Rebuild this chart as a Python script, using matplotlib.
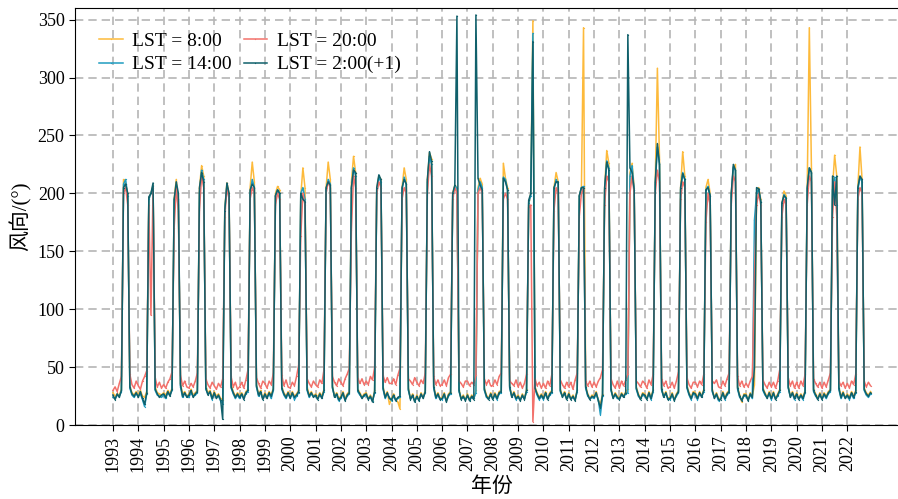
import numpy as np
import matplotlib
matplotlib.use("Agg")
import matplotlib.pyplot as plt

plt.rcParams['font.family'] = ['Liberation Serif', 'Noto Sans CJK SC']
plt.rcParams['axes.unicode_minus'] = False

years = list(range(1993, 2023))

# 月平均风向 (°)，每行一年 1-12 月
wd_08 = [
    [28, 25, 27, 26, 31, 212, 208, 200, 34, 28, 26, 29],
    [26, 30, 25, 24, 29, 196, 200, 207, 33, 28, 27, 26],
    [28, 26, 30, 27, 32, 195, 212, 190, 36, 27, 29, 25],
    [27, 31, 26, 28, 30, 205, 224, 215, 34, 28, 30, 24],
    [29, 25, 27, 23, 22, 187, 209, 200, 35, 29, 25, 28],
    [26, 28, 24, 29, 31, 205, 227, 210, 35, 27, 30, 23],
    [28, 25, 29, 26, 32, 200, 206, 203, 33, 28, 25, 29],
    [25, 29, 25, 27, 30, 198, 222, 205, 33, 26, 29, 25],
    [27, 24, 28, 25, 31, 205, 227, 212, 34, 25, 28, 23],
    [25, 29, 23, 27, 29, 210, 232, 218, 31, 28, 24, 27],
    [28, 23, 26, 21, 30, 203, 215, 212, 33, 25, 29, 18],
    [23, 27, 22, 20, 14, 205, 222, 212, 32, 23, 27, 21],
    [26, 22, 28, 24, 30, 212, 235, 230, 34, 25, 28, 23],
    [24, 28, 21, 27, 29, 200, 207, 205, 31, 23, 26, 22],
    [27, 22, 26, 23, 30, 205, 213, 208, 32, 26, 23, 28],
    [23, 28, 24, 29, 30, 226, 213, 205, 34, 25, 29, 24],
    [26, 22, 27, 23, 31, 190, 200, 349, 33, 28, 24, 27],
    [24, 29, 23, 28, 30, 205, 218, 210, 31, 25, 29, 23],
    [28, 23, 26, 22, 31, 198, 205, 343, 34, 27, 23, 26],
    [25, 29, 22, 18, 27, 205, 237, 226, 32, 24, 28, 25],
    [23, 28, 25, 29, 31, 218, 226, 205, 33, 27, 23, 28],
    [27, 23, 29, 24, 31, 210, 308, 230, 32, 25, 29, 23],
    [24, 28, 22, 27, 30, 205, 236, 215, 34, 28, 24, 29],
    [28, 24, 29, 25, 31, 205, 212, 200, 31, 24, 28, 23],
    [23, 29, 24, 28, 30, 200, 222, 225, 33, 26, 20, 27],
    [27, 22, 28, 25, 35, 200, 205, 195, 32, 28, 24, 29],
    [24, 29, 23, 27, 31, 190, 202, 198, 34, 25, 29, 24],
    [28, 23, 27, 24, 30, 205, 343, 222, 31, 27, 23, 28],
    [23, 28, 25, 29, 31, 205, 233, 215, 33, 25, 29, 24],
    [27, 24, 29, 25, 30, 205, 240, 212, 32, 28, 26, 29],
]

wd_14 = [
    [24, 23, 26, 25, 29, 208, 212, 198, 32, 26, 24, 27],
    [25, 27, 22, 16, 27, 195, 200, 206, 30, 26, 25, 24],
    [26, 23, 28, 26, 30, 194, 205, 195, 33, 24, 27, 25],
    [24, 28, 25, 26, 28, 200, 220, 212, 31, 27, 28, 22],
    [27, 24, 25, 21, 18, 186, 207, 198, 32, 27, 23, 26],
    [23, 26, 24, 27, 29, 200, 212, 205, 33, 25, 28, 23],
    [26, 24, 27, 23, 30, 198, 203, 200, 31, 26, 23, 27],
    [24, 27, 22, 25, 28, 200, 205, 195, 30, 24, 27, 25],
    [25, 23, 26, 24, 29, 203, 212, 208, 32, 25, 26, 21],
    [23, 27, 22, 25, 27, 205, 222, 215, 29, 26, 24, 25],
    [26, 23, 24, 21, 28, 200, 214, 210, 31, 23, 27, 24],
    [21, 25, 22, 23, 24, 203, 214, 208, 30, 23, 25, 21],
    [24, 22, 26, 24, 28, 210, 232, 225, 32, 23, 26, 23],
    [22, 26, 21, 25, 27, 198, 206, 205, 29, 23, 24, 22],
    [25, 22, 24, 23, 28, 203, 210, 205, 30, 24, 23, 26],
    [23, 26, 22, 27, 28, 214, 212, 203, 32, 25, 27, 22],
    [24, 22, 25, 23, 29, 192, 198, 338, 31, 26, 22, 25],
    [22, 27, 23, 26, 28, 203, 212, 208, 29, 25, 27, 23],
    [26, 23, 24, 22, 29, 198, 205, 206, 32, 25, 23, 24],
    [23, 27, 22, 9, 25, 203, 228, 222, 30, 24, 26, 23],
    [23, 26, 25, 27, 28, 215, 224, 203, 31, 25, 23, 26],
    [25, 23, 27, 22, 29, 208, 240, 225, 30, 25, 27, 23],
    [22, 26, 22, 25, 28, 203, 218, 212, 32, 26, 22, 27],
    [26, 22, 27, 25, 29, 203, 206, 198, 29, 24, 26, 21],
    [23, 27, 22, 26, 28, 198, 223, 220, 31, 24, 22, 25],
    [25, 22, 26, 23, 177, 200, 204, 193, 30, 26, 24, 27],
    [22, 27, 23, 25, 29, 190, 199, 196, 32, 25, 27, 22],
    [26, 23, 25, 22, 28, 203, 222, 218, 29, 25, 23, 26],
    [23, 26, 23, 27, 29, 203, 214, 190, 31, 23, 27, 24],
    [25, 22, 27, 23, 28, 203, 214, 210, 30, 26, 24, 27],
]

wd_20 = [
    [30, 33, 29, 36, 42, 200, 205, 190, 44, 35, 32, 38],
    [34, 31, 38, 42, 47, 190, 95, 205, 41, 33, 37, 32],
    [35, 32, 37, 40, 46, 170, 205, 185, 43, 34, 38, 33],
    [32, 36, 33, 38, 45, 186, 215, 205, 40, 35, 32, 37],
    [34, 31, 36, 33, 40, 180, 205, 195, 42, 33, 37, 31],
    [33, 37, 32, 39, 48, 195, 205, 200, 41, 36, 32, 38],
    [36, 32, 38, 35, 45, 190, 200, 195, 43, 34, 39, 33],
    [32, 37, 34, 42, 52, 163, 200, 190, 40, 36, 33, 38],
    [35, 33, 39, 36, 48, 200, 210, 205, 42, 37, 34, 40],
    [37, 34, 40, 44, 49, 168, 215, 205, 41, 36, 40, 35],
    [38, 35, 42, 39, 50, 200, 210, 205, 43, 37, 41, 36],
    [36, 40, 35, 43, 49, 195, 205, 200, 40, 38, 35, 41],
    [37, 34, 39, 36, 45, 200, 225, 215, 42, 35, 39, 34],
    [35, 39, 34, 41, 44, 195, 205, 200, 38, 36, 33, 38],
    [38, 34, 37, 35, 43, 200, 205, 200, 40, 35, 39, 34],
    [34, 39, 35, 42, 45, 195, 200, 195, 38, 36, 34, 39],
    [33, 37, 32, 36, 44, 188, 190, 3, 40, 34, 37, 32],
    [36, 32, 38, 34, 44, 185, 205, 200, 39, 35, 32, 37],
    [33, 37, 31, 39, 45, 180, 200, 205, 38, 34, 38, 33],
    [37, 33, 38, 41, 48, 190, 215, 210, 40, 35, 32, 38],
    [32, 38, 34, 39, 44, 200, 215, 200, 38, 36, 33, 38],
    [36, 32, 39, 35, 44, 200, 220, 210, 40, 34, 38, 32],
    [33, 37, 32, 38, 46, 195, 210, 205, 41, 35, 32, 37],
    [37, 33, 38, 35, 44, 175, 200, 190, 38, 36, 39, 33],
    [32, 38, 34, 40, 45, 190, 215, 210, 42, 34, 38, 33],
    [36, 33, 38, 42, 130, 190, 200, 190, 39, 35, 32, 37],
    [33, 37, 32, 38, 48, 180, 195, 190, 41, 34, 38, 32],
    [37, 32, 38, 34, 44, 190, 215, 210, 40, 36, 33, 37],
    [32, 37, 33, 39, 45, 180, 210, 180, 38, 34, 37, 32],
    [36, 32, 38, 35, 44, 195, 205, 200, 38, 33, 37, 34],
]

wd_02 = [
    [26, 22, 27, 24, 30, 205, 208, 200, 33, 27, 25, 28],
    [24, 29, 23, 18, 28, 197, 200, 209, 31, 27, 24, 26],
    [27, 24, 29, 25, 31, 195, 210, 200, 35, 25, 28, 24],
    [26, 30, 24, 27, 29, 205, 218, 210, 32, 26, 29, 23],
    [28, 23, 26, 22, 5, 185, 209, 200, 33, 28, 24, 27],
    [24, 27, 22, 28, 30, 203, 208, 205, 34, 26, 29, 22],
    [27, 23, 28, 25, 31, 198, 203, 200, 32, 27, 24, 28],
    [23, 28, 24, 26, 29, 200, 195, 193, 31, 25, 28, 24],
    [26, 22, 27, 23, 30, 205, 210, 207, 33, 24, 27, 22],
    [24, 28, 21, 26, 28, 205, 220, 218, 30, 27, 23, 26],
    [27, 22, 25, 20, 29, 205, 216, 212, 32, 24, 28, 23],
    [22, 26, 21, 24, 25, 205, 212, 208, 31, 22, 26, 20],
    [25, 21, 27, 23, 29, 212, 236, 228, 33, 24, 27, 22],
    [23, 27, 20, 26, 28, 200, 207, 353, 30, 22, 25, 21],
    [26, 21, 25, 22, 354, 213, 207, 203, 31, 25, 22, 27],
    [22, 27, 23, 28, 29, 213, 210, 203, 33, 24, 28, 23],
    [25, 21, 26, 22, 30, 194, 200, 331, 32, 27, 23, 26],
    [23, 28, 22, 27, 29, 205, 210, 210, 30, 24, 28, 22],
    [27, 22, 25, 21, 30, 198, 205, 205, 33, 26, 22, 25],
    [24, 28, 21, 15, 26, 205, 227, 220, 31, 23, 27, 24],
    [22, 27, 24, 28, 337, 222, 218, 203, 32, 26, 22, 27],
    [26, 22, 28, 23, 30, 210, 243, 225, 31, 24, 28, 22],
    [23, 27, 21, 26, 29, 205, 217, 212, 33, 27, 23, 28],
    [27, 23, 28, 24, 30, 203, 205, 198, 30, 23, 27, 22],
    [22, 28, 23, 27, 29, 200, 225, 220, 32, 25, 21, 26],
    [26, 21, 27, 24, 50, 205, 204, 193, 31, 27, 23, 28],
    [23, 28, 22, 26, 30, 192, 198, 196, 33, 24, 28, 23],
    [27, 22, 26, 23, 29, 205, 222, 218, 30, 26, 22, 27],
    [22, 27, 24, 28, 30, 215, 190, 215, 32, 24, 28, 23],
    [26, 23, 28, 24, 29, 205, 215, 212, 31, 27, 25, 28],
]

labels = ['LST = 8:00', 'LST = 14:00', 'LST = 20:00', 'LST = 2:00(+1)']
colors = ['#FDBA3B', '#1F9CC0', '#F2716B', '#10606B']
series = [wd_08, wd_14, wd_20, wd_02]

# 时间轴：年 + (月-1)/12
t = (np.array(years)[:, None] + np.arange(12)[None, :] / 12.0).ravel()

fig = plt.figure(figsize=(8.98, 4.99), dpi=100)
ax = fig.add_axes([0.0835, 0.148, 0.928, 0.836])

for data, lab, c in zip(series, labels, colors):
    ax.plot(t, np.array(data, dtype=float).ravel(), color=c, lw=1.1,
            marker='o', markersize=0.9, markeredgewidth=0, label=lab)

ax.set_xlim(1991.5, 2024.41)
ax.set_ylim(0, 360)
ax.set_xticks(years)
ax.set_xticklabels([str(y) for y in years], rotation=90)
ax.set_yticks(range(0, 351, 50))
ax.tick_params(labelsize=13, direction='out', length=4)
ax.grid(True, ls=(0, (5, 3)), color='#b5b5b5', lw=1.2)
ax.set_axisbelow(True)

ax.set_xlabel('年份', fontsize=15)
ax.set_ylabel('风向/(°)', fontsize=15)

ax.legend(loc='upper left', ncol=2, frameon=False, fontsize=14,
          handlelength=1.2, handletextpad=0.5, columnspacing=0.6,
          borderaxespad=0.85, labelspacing=0.3)

fig.savefig('out.png', dpi=100)
